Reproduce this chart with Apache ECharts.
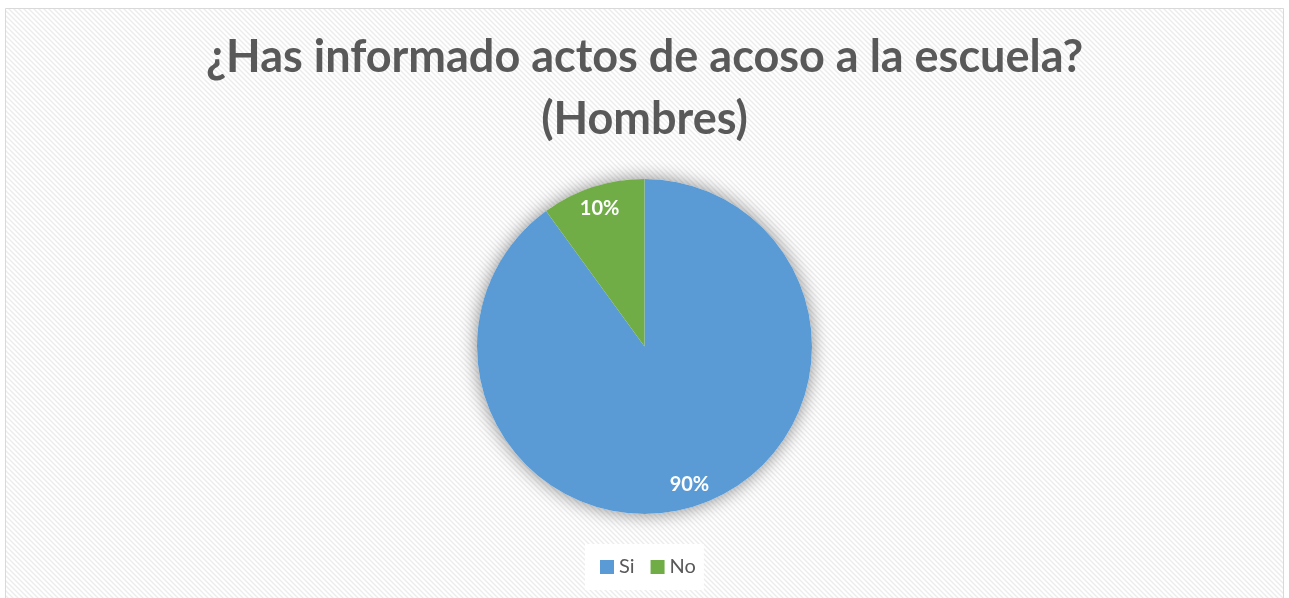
<!DOCTYPE html>
<html>
<head>
<meta charset="utf-8">
<script src="https://cdn.jsdelivr.net/npm/echarts@6/dist/echarts.min.js"></script>
<style>
  html, body { margin: 0; padding: 0; background: #ffffff; }
  #chart { width: 1289px; height: 598px; }
</style>
</head>
<body>
<div id="chart"></div>
<script>
const titleText = '¿Has informado actos de acoso a la escuela?\n(Hombres)';
const categories = ['Si', 'No'];
const values = [90, 10];
const colors = ['#5B9BD5', '#70AD47'];

// diagonal hatch like the Excel chart area
const makeHatch = () => {
    const c = document.createElement('canvas');
    c.width = 5;
    c.height = 5;
    const ctx = c.getContext('2d');
    ctx.fillStyle = '#ffffff';
    ctx.fillRect(0, 0, 5, 5);
    ctx.strokeStyle = '#ececec';
    ctx.lineWidth = 1.4;
    ctx.beginPath();
    ctx.moveTo(-1, -1); ctx.lineTo(6, 6);
    ctx.moveTo(-1, 4); ctx.lineTo(1, 6);
    ctx.moveTo(4, -1); ctx.lineTo(6, 1);
    ctx.stroke();
    return c;
};

const font = 'Lato, "Open Sans", sans-serif';
const center = [644.5, 346.5];
const R = 167.5;

const pieData = categories.map((name, i) => ({
    name: name,
    value: values[i],
    itemStyle: { color: colors[i] }
}));

const chart = echarts.init(document.getElementById('chart'));
chart.setOption({
    animation: false,
    graphic: [
        {
            type: 'rect',
            z: -10,
            silent: true,
            shape: { x: 5.5, y: 8.5, width: 1278, height: 600 },
            style: {
                fill: { image: makeHatch(), repeat: 'repeat' },
                stroke: '#d9d9d9',
                lineWidth: 1
            }
        }
    ],
    title: {
        text: titleText,
        left: 'center',
        top: 21,
        textStyle: {
            fontFamily: font,
            fontSize: 45,
            fontWeight: 'bold',
            color: '#595959',
            lineHeight: 62,
            align: 'center'
        }
    },
    legend: {
        data: categories,
        left: 585,
        top: 544,
        padding: [13, 8, 13, 15],
        backgroundColor: '#ffffff',
        itemWidth: 14,
        itemHeight: 14,
        itemGap: 16,
        icon: 'rect',
        selectedMode: false,
        textStyle: { fontFamily: font, fontSize: 20, color: '#595959' }
    },
    series: [
        {
            // shadow disc behind the pie
            type: 'pie',
            silent: true,
            z: 1,
            center: center,
            radius: [0, R],
            data: [{ value: 1, name: 'shadow' }],
            itemStyle: {
                color: '#ffffff',
                shadowBlur: 18,
                shadowColor: 'rgba(0,0,0,0.45)'
            },
            label: { show: false },
            labelLine: { show: false }
        },
        {
            type: 'pie',
            z: 2,
            center: center,
            radius: [0, R],
            startAngle: 90,
            clockwise: true,
            data: pieData,
            itemStyle: { borderWidth: 0 },
            label: { show: false },
            labelLine: { show: false },
            emphasis: { disabled: true }
        },
        {
            // label ring so the percentages sit near the rim
            type: 'pie',
            silent: true,
            z: 3,
            center: center,
            radius: [R * 0.7, R],
            startAngle: 90,
            clockwise: true,
            data: categories.map((name, i) => ({ name: name, value: values[i] })),
            itemStyle: { color: 'rgba(0,0,0,0)' },
            label: {
                show: true,
                position: 'inside',
                formatter: (p) => p.value + '%',
                fontFamily: font,
                fontSize: 20,
                fontWeight: 'bold',
                color: '#ffffff'
            },
            labelLine: { show: false }
        }
    ]
});
</script>
</body>
</html>
